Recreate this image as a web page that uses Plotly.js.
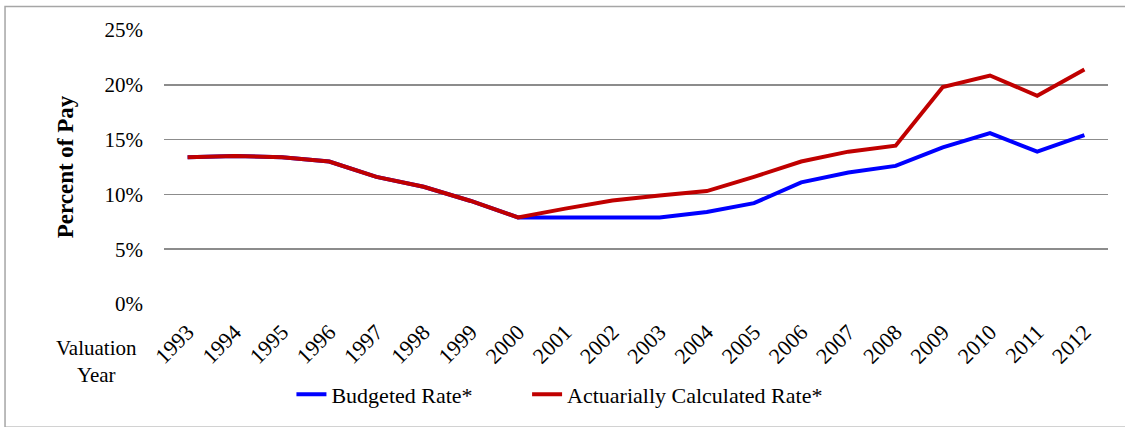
<!DOCTYPE html>
<html>
<head>
<meta charset="utf-8">
<script src="https://cdn.plot.ly/plotly-3.0.1.min.js"></script>
<style>html,body{margin:0;padding:0;background:#fff;}#chart{width:1125px;height:427px;}</style>
</head>
<body>
<div id="chart"></div>
<script>
const years = ["1993","1994","1995","1996","1997","1998","1999","2000","2001","2002","2003","2004","2005","2006","2007","2008","2009","2010","2011","2012"];
const budgetedRate = [13.4,13.5,13.4,13.0,11.6,10.7,9.4,7.9,7.9,7.9,7.9,8.4,9.2,11.1,12.0,12.6,14.3,15.6,13.9,15.4];
const actuarialRate = [13.4,13.5,13.4,13.0,11.6,10.7,9.4,7.9,8.7,9.45,9.9,10.3,11.6,13.0,13.9,14.45,19.8,20.85,19.0,21.4];
const yTicks = [0,5,10,15,20,25];
const yTickLabels = ["0%","5%","10%","15%","20%","25%"];

const font = "Liberation Serif";
const pad = "\u00a0\u00a0\u00a0\u00a0\u00a0\u00a0\u00a0\u00a0\u00a0";
const traces = [
  {x: years, y: budgetedRate, type: "scatter", mode: "lines", name: "Budgeted Rate*" + pad,
   line: {color: "#0000ff", width: 4}},
  {x: years, y: actuarialRate, type: "scatter", mode: "lines", name: "Actuarially Calculated Rate*",
   line: {color: "#c00000", width: 4}}
];
const layout = {
  width: 1125, height: 427,
  margin: {l: 164, r: 17, t: 30, b: 117},
  paper_bgcolor: "#fff", plot_bgcolor: "#fff",
  font: {family: font, size: 21, color: "#000"},
  showlegend: true,
  legend: {orientation: "h", x: 0.135, xanchor: "left", y: -0.33, yanchor: "middle",
    font: {family: font, size: 22, color: "#000"}, bgcolor: "rgba(0,0,0,0)"},
  xaxis: {type: "category", tickangle: -45, showgrid: false, zeroline: false, showline: false,
    ticks: "", ticklabelstandoff: 10, tickfont: {family: font, size: 22}, range: [-0.5, 19.5], fixedrange: true},
  yaxis: {range: [0, 25], tickvals: yTicks, ticktext: yTickLabels, showgrid: true,
    gridcolor: "#8c8c8c", gridwidth: 1.5, zeroline: false, showline: false, ticks: "",
    ticklabelstandoff: 20, tickfont: {family: font, size: 21},
    title: {text: "<b>Percent of Pay</b>", font: {family: font, size: 23}, standoff: 24}},
  annotations: [
    {xref: "paper", yref: "paper", x: -0.071, y: -0.11, xanchor: "center", yanchor: "top",
     text: "Valuation<br>Year", showarrow: false, align: "center",
     font: {family: font, size: 21, color: "#000"}}
  ],
  shapes: [
    {type: "rect", xref: "paper", yref: "paper", x0: -0.1684, x1: 1.03, y0: -0.45, y1: 1.0857,
     line: {color: "#a6a6a6", width: 1.5}, fillcolor: "rgba(0,0,0,0)", layer: "below"}
  ]
};
Plotly.newPlot("chart", traces, layout, {displayModeBar: false, staticPlot: true});
</script>
</body>
</html>
